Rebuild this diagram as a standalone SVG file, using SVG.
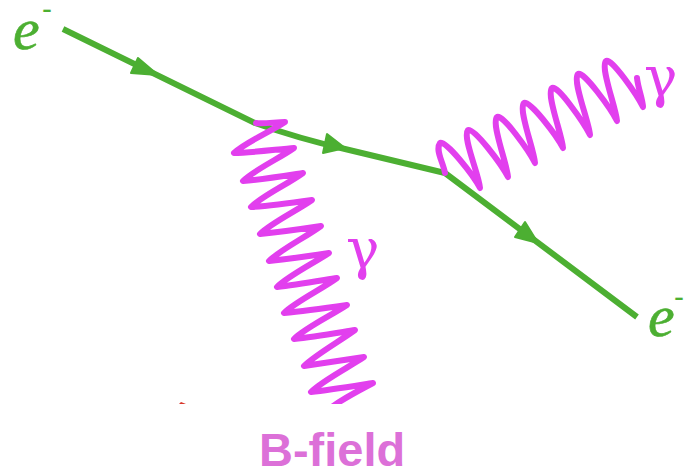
<svg xmlns="http://www.w3.org/2000/svg" width="684" height="472" viewBox="0 0 684 472">
<style>
.fermion{fill:none;stroke:#4caf32;stroke-width:6;stroke-linejoin:round}
.head{fill:#4caf32;stroke:#4caf32;stroke-width:2;stroke-linejoin:round}
.photon{fill:none;stroke:#e23fee;stroke-width:6;stroke-linejoin:round;stroke-linecap:round}
.el{font-family:"Liberation Serif",serif;font-style:italic;font-size:60px;fill:#4caf32;stroke:#4caf32;stroke-width:.6}
.minus{font-family:"Liberation Sans",sans-serif;font-size:30px;fill:#4caf32}
.gam{font-family:"DejaVu Serif",serif;font-size:56px;fill:#e23fee}
</style>
<defs><clipPath id="cut"><rect width="684" height="404"/></clipPath></defs>
<rect width="684" height="472" fill="#fff"/>
<g id="connectors">
<path id="electron-line" class="fermion" d="M63 29L255 123Q300 139 345 149L445 173L637 317"/>
<polygon class="head" points="138,58 131,73 158,75"/>
<polygon class="head" points="327,134 323,153 345,148"/>
<polygon class="head" points="525,222 515,237 538,243"/>
<path id="photon-down" class="photon" clip-path="url(#cut)" d="M256 123C264 124 276 122 285 122C270 132 246 142 234 153C250 153 280 149 294 148C280 158 254 170 243 181C260 180 290 175 303 173C288 184 262 196 251 207C270 206 298 202 312 200C298 210 271 223 260 234C280 232 308 228 321 226C306 237 280 250 269 261C288 259 316 255 329 253C314 263 288 276 277 287C296 285 324 280 337 278C322 289 295 302 284 313C305 311 333 307 347 305C332 315 305 328 294 339C315 337 342 332 355 330C340 341 315 355 304 366C325 363 351 359 364 357C349 367 322 381 311 392C330 390 360 385 373 383C358 391 340 400 328 410"/>
<path id="photon-up" class="photon" d="M445 173C443 162 435 150 440 143C445 139 474 176 480 188C479 174 462 137 468 130C473 126 502 165 508 177C507 163 491 124 497 117C502 113 529 151 535 163C534 149 518 110 524 103C529 99 557 136 563 148C562 134 546 95 552 88C557 84 584 123 590 135C589 121 572 81 578 74C583 70 611 109 617 121C616 107 600 68 606 61C611 57 637 95 643 107C643 100 638 88 637 78"/>
</g>
<g id="electron-in">
<text class="el" x="13" y="49">e</text>
<text class="minus" x="42" y="19">-</text>
</g>
<g id="electron-out">
<text class="el" x="648" y="336">e</text>
<text class="minus" x="674" y="307">-</text>
</g>
<g id="gamma-down"><text class="gam" x="346" y="268">γ</text></g>
<g id="gamma-up"><text class="gam" x="644" y="96">γ</text></g>
<g id="caption"><text x="259" y="466" font-family="'Liberation Sans',sans-serif" font-weight="700" font-size="47" fill="#dc70d8">B-field</text></g>
<path id="red-mark" d="M179 404L181 402L186 404Z" fill="#d8352a"/>
</svg>
